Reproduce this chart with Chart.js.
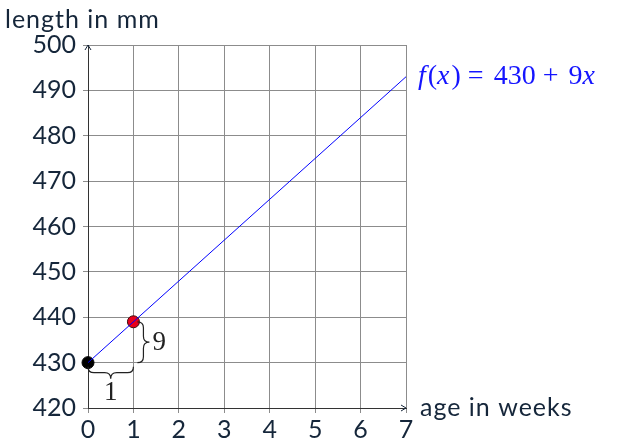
<!DOCTYPE html>
<html>
<head>
<meta charset="utf-8">
<script src="https://cdn.jsdelivr.net/npm/chart.js@4"></script>
<style>
  html, body { margin: 0; padding: 0; background: #fff; }
  #wrap { width: 623px; height: 439px; }
</style>
</head>
<body>
<div id="wrap"><canvas id="growth"></canvas></div>
<script>
// values
const xTicks = [0, 1, 2, 3, 4, 5, 6, 7];
const yTicks = [420, 430, 440, 450, 460, 470, 480, 490, 500];
const lineX = [0, 7];
const lineY = [430, 493];
const startPoint = [0, 430];
const stepPoint = [1, 439];

const ink = '#15263a';
const sans = 'Lato, "Open Sans", sans-serif';
const serif = '"Liberation Serif", "DejaVu Serif", serif';

const extras = {
  id: 'extras',
  afterDraw(chart) {
    const c = chart.ctx;
    const x = chart.scales.x, y = chart.scales.y;
    const a = chart.chartArea;
    c.save();

    // arrow heads on the axes
    c.strokeStyle = ink;
    c.lineWidth = 1;
    c.beginPath();
    c.moveTo(a.left - 3, a.top + 5); c.lineTo(a.left, a.top); c.lineTo(a.left + 3, a.top + 5);
    c.moveTo(a.right - 5, a.bottom - 3); c.lineTo(a.right, a.bottom); c.lineTo(a.right - 5, a.bottom + 3);
    c.stroke();

    // axis titles
    c.fillStyle = ink;
    c.font = '25px ' + sans;
    c.letterSpacing = '1px';
    c.textBaseline = 'alphabetic';
    c.textAlign = 'left';
    c.fillText('length in mm', 5, 28);
    c.textBaseline = 'middle';
    c.fillText('age in weeks', a.right + 14, a.bottom);
    c.letterSpacing = '0px';

    // braces
    const x0 = x.getPixelForValue(startPoint[0]);
    const x1 = x.getPixelForValue(stepPoint[0]);
    const y0 = y.getPixelForValue(startPoint[1]);
    const y1 = y.getPixelForValue(stepPoint[1]);
    c.strokeStyle = '#222';
    c.lineWidth = 1.2;
    // horizontal brace under the step
    let by = y0 + 4, d = 6, xm = (x0 + x1) / 2;
    c.beginPath();
    c.moveTo(x0, by);
    c.quadraticCurveTo(x0, by + d, x0 + d, by + d);
    c.lineTo(xm - d, by + d);
    c.quadraticCurveTo(xm, by + d, xm, by + 2 * d);
    c.quadraticCurveTo(xm, by + d, xm + d, by + d);
    c.lineTo(x1 - d, by + d);
    c.quadraticCurveTo(x1, by + d, x1, by);
    c.stroke();
    // vertical brace right of the rise
    let bx = x1 + 4, ym = (y0 + y1) / 2;
    c.beginPath();
    c.moveTo(bx, y1);
    c.quadraticCurveTo(bx + d, y1, bx + d, y1 + d);
    c.lineTo(bx + d, ym - d);
    c.quadraticCurveTo(bx + d, ym, bx + 2 * d, ym);
    c.quadraticCurveTo(bx + d, ym, bx + d, ym + d);
    c.lineTo(bx + d, y0 - d);
    c.quadraticCurveTo(bx + d, y0, bx, y0);
    c.stroke();

    c.fillStyle = '#222';
    c.font = '27px ' + serif;
    c.textAlign = 'center';
    c.textBaseline = 'middle';
    c.fillText('1', xm, by + 2 * d + 14);
    c.textAlign = 'left';
    c.fillText('9', bx + 2 * d + 3, ym + 1);

    // function label
    const ly = y.getPixelForValue(lineY[1]);
    let lx = a.right + 12;
    c.fillStyle = '#1515ff';
    c.textBaseline = 'middle';
    const parts = [['f', true], ['(', false], ['x', true], [')', false], [' = ', false],
                   ['430', false], [' + ', false], ['9', false], ['x', true]];
    parts.forEach(p => {
      c.font = (p[1] ? 'italic ' : '') + '28px ' + serif;
      c.fillText(p[0], lx, ly);
      lx += c.measureText(p[0]).width + (p[1] ? 2 : 0) + (p[0].startsWith(' ') ? 3 : 0);
    });
    c.restore();
  }
};

new Chart(document.getElementById('growth'), {
  type: 'scatter',
  data: {
    datasets: [{
      type: 'line',
      data: lineX.map((v, i) => ({x: v, y: lineY[i]})),
      borderColor: '#0000ff',
      borderWidth: 1,
      pointRadius: 0,
      fill: false,
      clip: false
    }, {
      data: [{x: startPoint[0], y: startPoint[1]}],
      backgroundColor: '#000',
      borderColor: '#000',
      pointRadius: 6,
      clip: false
    }, {
      data: [{x: stepPoint[0], y: stepPoint[1]}],
      backgroundColor: '#e8001c',
      borderColor: '#3a0a0a',
      borderWidth: 1,
      pointRadius: 6,
      clip: false
    }]
  },
  options: {
    responsive: true,
    maintainAspectRatio: false,
    animation: false,
    layout: { padding: { top: 45, right: 217, left: 0, bottom: 0 } },
    plugins: { legend: { display: false }, tooltip: { enabled: false } },
    scales: {
      x: {
        type: 'linear',
        min: 0, max: 7,
        afterFit: s => { s.height = 31; },
        afterBuildTicks: s => { s.ticks = xTicks.map(v => ({value: v})); },
        grid: { color: '#8c8c8c', tickLength: 5 },
        border: { color: '#333' },
        ticks: { color: ink, font: { family: sans, size: 25 }, padding: 2 }
      },
      y: {
        type: 'linear',
        min: 420, max: 500,
        afterFit: s => { s.width = 88; },
        afterBuildTicks: s => { s.ticks = yTicks.map(v => ({value: v})); },
        grid: { color: '#8c8c8c', tickLength: 5 },
        border: { color: '#333' },
        ticks: { color: ink, font: { family: sans, size: 25 }, padding: 7 }
      }
    }
  },
  plugins: [extras]
});
</script>
</body>
</html>
